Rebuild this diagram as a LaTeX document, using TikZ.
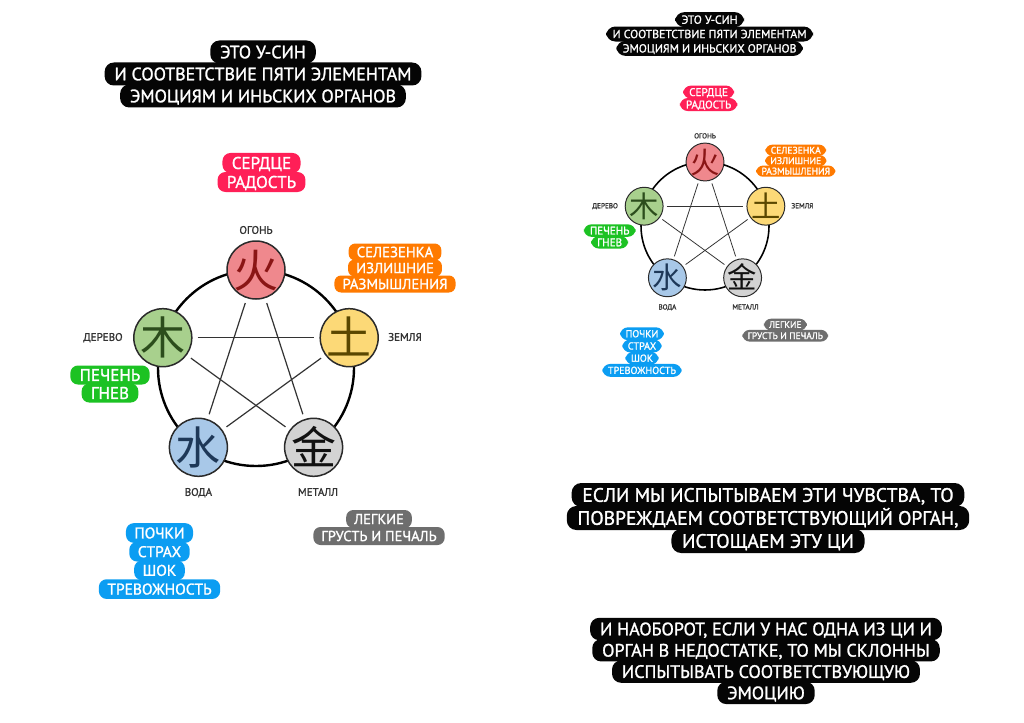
\documentclass[tikz,border=0pt]{standalone}
\usepackage{fontspec}
\setmainfont{PT Sans}
\newfontfamily\storyfont[FakeBold=1.4]{PT Sans}
\newfontfamily\cjkfont{Noto Sans CJK SC}
\definecolor{storyblack}{HTML}{050505}
\definecolor{heartred}{HTML}{FF1F57}
\definecolor{spleenor}{HTML}{FF7A00}
\definecolor{livergr}{HTML}{1CC223}
\definecolor{kidbl}{HTML}{0B9DF2}
\definecolor{lunggr}{HTML}{6E6E6E}
\definecolor{firef}{HTML}{EF888D}
\definecolor{firet}{HTML}{8A1515}
\definecolor{woodf}{HTML}{A8D08D}
\definecolor{woodt}{HTML}{2C4D1C}
\definecolor{earthf}{HTML}{FCD977}
\definecolor{eartht}{HTML}{5A4700}
\definecolor{waterf}{HTML}{A8C8E8}
\definecolor{watert}{HTML}{1E3858}
\definecolor{metalf}{HTML}{D3D3D3}
\definecolor{metalt}{HTML}{111111}
\definecolor{ringgray}{HTML}{2A2A2A}
\definecolor{stargray}{HTML}{333333}
\definecolor{lblgray}{HTML}{333333}
\tikzset{
  story/.style={fill=#1, text=white, inner ysep=0pt, anchor=center},
  elem/.style={circle, draw=ringgray, inner sep=0pt,
    font=\cjkfont\fontsize{45}{45}\selectfont,
    text height=34.2pt, text depth=0pt, minimum size=58pt},
  lbl/.style={text=lblgray, font=\storyfont\fontsize{11}{11}\selectfont, inner sep=0pt,
    text height=7.7pt, text depth=0pt},
}
% #1 prefix, #2 colour, #3 font size, #4 line spacing, #5 x, #6 y, #7 lines
\newcommand\stb[7]{%
  \pgfmathsetmacro\stbcap{0.7*#3}%
  \pgfmathsetmacro\stbmh{#4+1}%
  \pgfmathsetmacro\stbrc{0.42*#4}%
  \pgfmathsetmacro\stbxs{0.55*#3}%
  \foreach \txt [count=\i] in {#7}{%
    \node[story=#2, font=\storyfont\fontsize{#3}{#3}\selectfont, text height=\stbcap pt,
      text depth=0pt, minimum height=\stbmh pt, rounded corners=\stbrc pt,
      inner xsep=\stbxs pt] (#1\i) at (#5,{#6+#4*(\i-1)}) {\txt};
  }%
}
% #1 prefix, #2 scale
\newcommand\panel[2]{%
  \pgfmathsetmacro\lwring{2.4*#2}%
  \pgfmathsetmacro\lwel{1.5*#2}%
  \pgfmathsetmacro\lwst{1.2*#2}%
  \pgfmathsetmacro\shr{5*#2}%
  \draw[line width=\lwring pt, draw=black] (0,0) circle (98);
  \node[elem, fill=firef, text=firet, line width=\lwel pt] (#1fire) at (0,-98) {火};
  \node[elem, fill=earthf, text=eartht, line width=\lwel pt] (#1earth) at (93.2,-30.3) {土};
  \node[elem, fill=metalf, text=metalt, line width=\lwel pt] (#1metal) at (57.6,79.3) {金};
  \node[elem, fill=waterf, text=watert, line width=\lwel pt] (#1water) at (-57.6,79.3) {水};
  \node[elem, fill=woodf, text=woodt, line width=\lwel pt] (#1wood) at (-93.2,-30.3) {木};
  \begin{scope}[line width=\lwst pt, draw=stargray, shorten <=\shr pt, shorten >=\shr pt]
    \draw (#1fire) -- (#1water);
    \draw (#1fire) -- (#1metal);
    \draw (#1wood) -- (#1earth);
    \draw (#1wood) -- (#1metal);
    \draw (#1earth) -- (#1water);
  \end{scope}
  \node[lbl] (#1lfire) at (0,-138) {ОГОНЬ};
  \node[lbl] (#1lwood) at (-153,-31) {ДЕРЕВО};
  \node[lbl] (#1learth) at (149,-31) {ЗЕМЛЯ};
  \node[lbl] (#1lwater) at (-57.6,124) {ВОДА};
  \node[lbl] (#1lmetal) at (62,124) {МЕТАЛЛ};
  \stb{#1t}{storyblack}{18}{22}{7}{-316}{ЭТО У-СИН, И СООТВЕТСТВИЕ ПЯТИ ЭЛЕМЕНТАМ, ЭМОЦИЯМ И ИНЬСКИХ ОРГАНОВ\hspace{1em}}
  \stb{#1h}{heartred}{17}{19}{5.5}{-205}{СЕРДЦЕ, РАДОСТЬ}
  \stb{#1o}{spleenor}{14.7}{16}{139}{-116}{СЕЛЕЗЕНКА, ИЗЛИШНИЕ, РАЗМЫШЛЕНИЯ}
  \stb{#1g}{livergr}{17}{18}{-146}{7}{ПЕЧЕНЬ, ГНЕВ}
  \stb{#1b}{kidbl}{15.5}{18.7}{-96.5}{165}{ПОЧКИ, СТРАХ, ШОК, ТРЕВОЖНОСТЬ}
  \stb{#1m}{lunggr}{14.5}{17}{123}{151}{ЛЕГКИЕ, ГРУСТЬ И ПЕЧАЛЬ}
}
\begin{document}
\begin{tikzpicture}[x=1pt,y=-1pt]
  \useasboundingbox (0,0) rectangle (1024,722);
  \fill[white] (0,0) rectangle (1024,722);
  \begin{scope}[shift={(256,368)}]
    \panel{L}{1}
  \end{scope}
  \begin{scope}[shift={(705,226)}, scale=0.653, transform shape]
    \panel{R}{0.653}
  \end{scope}
  \stb{ra}{storyblack}{19.5}{23}{768}{495}{{ЕСЛИ МЫ ИСПЫТЫВАЕМ ЭТИ ЧУВСТВА, ТО},{ПОВРЕЖДАЕМ СООТВЕТСТВУЮЩИЙ ОРГАН,},{ИСТОЩАЕМ ЭТУ ЦИ}}
  \stb{rb}{storyblack}{18}{21.3}{766}{629}{{И НАОБОРОТ, ЕСЛИ У НАС ОДНА ИЗ ЦИ И},{ОРГАН В НЕДОСТАТКЕ, ТО МЫ СКЛОННЫ},{ИСПЫТЫВАТЬ СООТВЕТСТВУЮЩУЮ},{ЭМОЦИЮ}}
\end{tikzpicture}
\end{document}
